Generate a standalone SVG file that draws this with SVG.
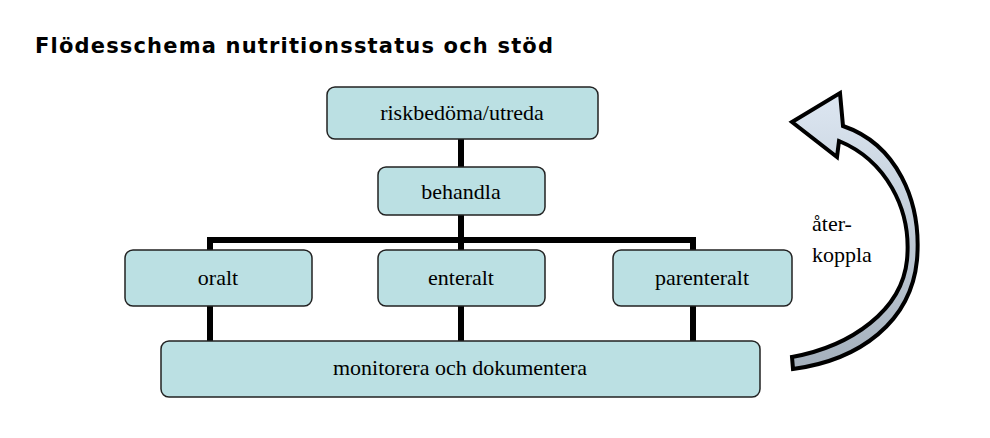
<svg xmlns="http://www.w3.org/2000/svg" width="990" height="438" viewBox="0 0 990 438">
<style>
.box{fill:#bbe0e3;stroke:#222;stroke-width:1.5}
.t{font-family:"Liberation Serif",serif;font-size:22px;fill:#000;text-anchor:middle}
.c{stroke:#000;stroke-width:6;fill:none}
</style>
<defs><linearGradient id="g" x1="0" y1="0" x2="0" y2="1"><stop offset="0" stop-color="#dde7f2"/><stop offset="1" stop-color="#a4b0bc"/></linearGradient></defs>
<rect width="990" height="438" fill="#fff"/>
<text x="35" y="53" font-family="DejaVu Sans,sans-serif" font-weight="bold" font-size="21" textLength="518">Flödesschema nutritionsstatus och stöd</text>
<g id="connectors">
<path class="c" d="M461,139V250M210,250V240H693V250M210,306V341M461,306V341M693,306V341"/>
</g>
<g id="n1"><rect class="box" x="327" y="87" width="271" height="52" rx="8"/><text class="t" x="462" y="120">riskbedöma/utreda</text></g>
<g id="n2"><rect class="box" x="378" y="167" width="167" height="48" rx="8"/><text class="t" x="461" y="199">behandla</text></g>
<g id="n3"><rect class="box" x="125" y="250" width="187" height="56" rx="8"/><text class="t" x="218" y="285">oralt</text></g>
<g id="n4"><rect class="box" x="378" y="250" width="167" height="56" rx="8"/><text class="t" x="461" y="285">enteralt</text></g>
<g id="n5"><rect class="box" x="613" y="250" width="179" height="56" rx="8"/><text class="t" x="702" y="285">parenteralt</text></g>
<g id="n6"><rect class="box" x="161" y="341" width="599" height="56" rx="8"/><text class="t" x="460" y="375">monitorera och dokumentera</text></g>
<g id="arrow">
<path d="M792,122 L840,93 L843,126 C896,144 922,200 917,260 C911,322 860,360 793,369 L792,357 C852,346 902,310 907,260 C912,208 885,160 839,141 L837,157 Z" fill="url(#g)" stroke="#000" stroke-width="4" stroke-linejoin="miter"/>
<text x="812" y="231" font-family="Liberation Serif,serif" font-size="22">åter-</text>
<text x="812" y="262" font-family="Liberation Serif,serif" font-size="22">koppla</text>
</g>
</svg>
